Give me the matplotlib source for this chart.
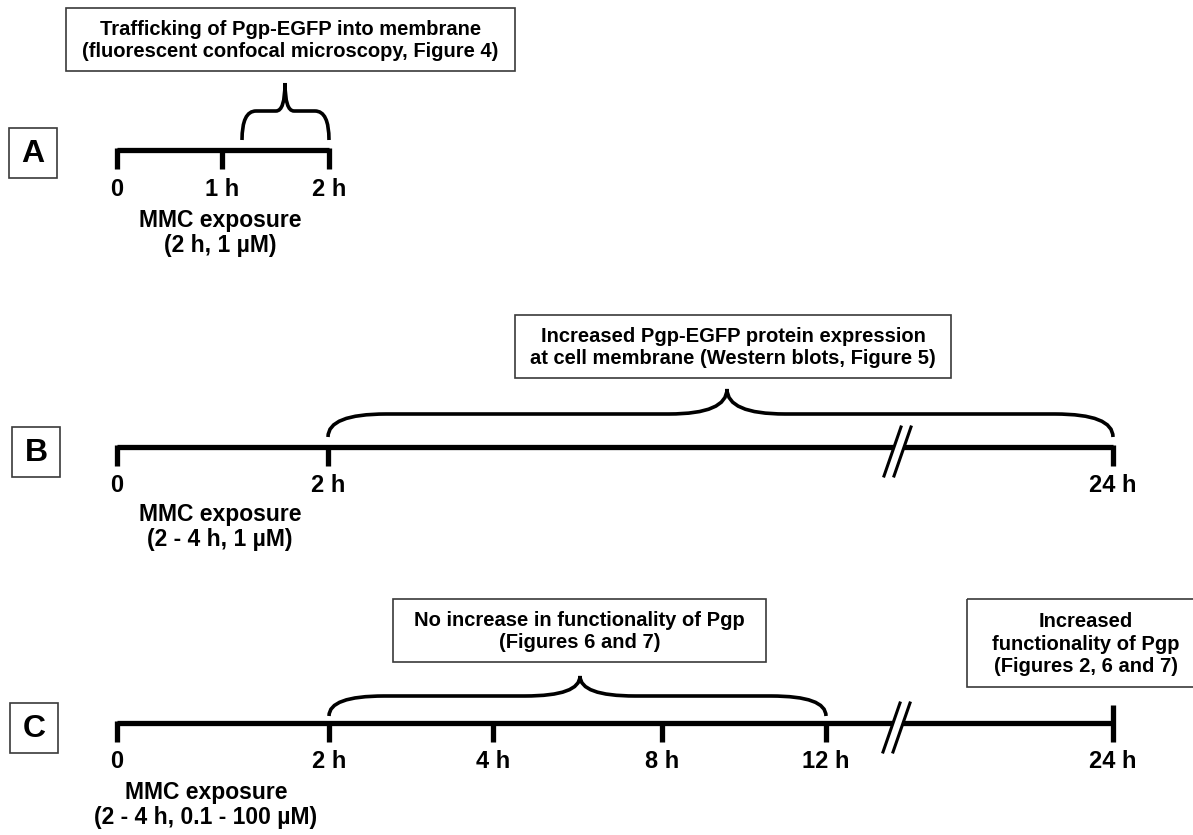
import matplotlib
matplotlib.use('Agg')
import matplotlib.pyplot as plt
from matplotlib.path import Path
from matplotlib.patches import PathPatch, Rectangle, Polygon

plt.rcParams['font.family'] = ['Liberation Sans', 'DejaVu Sans']
plt.rcParams['font.weight'] = 'bold'

# timeline ticks per panel (label, x position in px)
ticks_a = ['0', '1 h', '2 h']
ticks_b = ['0', '2 h', '24 h']
ticks_c = ['0', '2 h', '4 h', '8 h', '12 h', '24 h']
pos_a = [117, 222, 329]
pos_b = [117, 328, 1113]
pos_c = [117, 329, 493, 662, 826, 1113]

exposure_a = 'MMC exposure\n(2 h, 1 µM)'
exposure_b = 'MMC exposure\n(2 - 4 h, 1 µM)'
exposure_c = 'MMC exposure\n(2 - 4 h, 0.1 - 100 µM)'

note_a = 'Trafficking of Pgp-EGFP into membrane\n(fluorescent confocal microscopy, Figure 4)'
note_b = 'Increased Pgp-EGFP protein expression\nat cell membrane (Western blots, Figure 5)'
note_c1 = 'No increase in functionality of Pgp\n(Figures 6 and 7)'
note_c2 = 'Increased\nfunctionality of Pgp\n(Figures 2, 6 and 7)'

W, H = 1193, 835
fig = plt.figure(figsize=(W / 100, H / 100), dpi=100)
ax = fig.add_axes([0, 0, 1, 1])
ax.set_xlim(0, W)
ax.set_ylim(H, 0)
ax.axis('off')

LW = 3.8
BOX_EC = '#3a3a3a'


def timeline(y, xs, labels, up_last=False, brk=None):
    ax.plot([xs[0], xs[-1]], [y, y], color='black', lw=LW, solid_capstyle='butt', zorder=2)
    for i, (x, lab) in enumerate(zip(xs, labels)):
        top = y - 18 if (up_last and i == len(xs) - 1) else y - 2
        ax.plot([x, x], [top, y + 19], color='black', lw=LW, solid_capstyle='butt', zorder=2)
        ax.text(x, y + 39, lab, ha='center', va='center', fontsize=17)
    if brk is not None:
        b, t = y + 29, y - 20
        dx = 17   # horizontal run of each slash
        sep = 10  # distance between the two slashes
        ax.add_patch(Polygon([[brk, b], [brk + dx, t], [brk + dx + sep, t], [brk + sep, b]],
                             closed=True, color='white', zorder=3))
        for off in (0, sep):
            ax.plot([brk + off, brk + dx + off], [b, t], color='black', lw=2.2, zorder=4)


def brace(x0, x1, xm, y_end, y_flat, y_tip, r=40, r2=45):
    verts = [(x0, y_end), (x0, y_flat), (x0 + r, y_flat),
             (xm - r2, y_flat),
             (xm, y_flat), (xm, y_tip),
             (xm, y_flat), (xm + r2, y_flat),
             (x1 - r, y_flat),
             (x1, y_flat), (x1, y_end)]
    codes = [Path.MOVETO, Path.CURVE3, Path.CURVE3,
             Path.LINETO,
             Path.CURVE3, Path.CURVE3,
             Path.CURVE3, Path.CURVE3,
             Path.LINETO,
             Path.CURVE3, Path.CURVE3]
    ax.add_patch(PathPatch(Path(verts, codes), fill=False, lw=2.6, color='black', zorder=2))


def note(x0, y0, x1, y1, text, cx=None, fs=14.5):
    ax.add_patch(Rectangle((x0, y0), x1 - x0, y1 - y0, fill=False, ec=BOX_EC, lw=1.2, zorder=2))
    cx = (x0 + x1) / 2 if cx is None else cx
    ax.text(cx, (y0 + y1) / 2 + 1, text, ha='center', va='center', fontsize=fs,
            linespacing=1.22, zorder=3)


def letter(x0, y0, x1, y1, t):
    ax.add_patch(Rectangle((x0, y0), x1 - x0, y1 - y0, fill=False, ec=BOX_EC, lw=1.2))
    ax.text((x0 + x1) / 2, (y0 + y1) / 2 + 1, t, ha='center', va='center', fontsize=23)


def exposure(x, y, text):
    ax.text(x, y, text, ha='center', va='center', fontsize=16.5, linespacing=1.15)


# panel A
letter(9, 128, 57, 178, 'A')
note(66, 8, 515, 71, note_a)
brace(242, 329, 285, 140, 111, 83, r=14, r2=9)
timeline(150, pos_a, ticks_a)
exposure(220, 233, exposure_a)

# panel B
letter(12, 427, 60, 477, 'B')
note(515, 315, 951, 378, note_b)
brace(328, 1113, 727, 437, 414, 389, r=58, r2=58)
timeline(447, pos_b, ticks_b, brk=884)
exposure(220, 527, exposure_b)

# panel C
letter(10, 703, 58, 753, 'C')
note(393, 599, 766, 662, note_c1)
note(967, 599, 1205, 687, note_c2, cx=1086)
brace(329, 826, 580, 716, 696, 676, r=55, r2=55)
timeline(723, pos_c, ticks_c, up_last=True, brk=883)
exposure(206, 805, exposure_c)

fig.savefig('out.png', dpi=100)
